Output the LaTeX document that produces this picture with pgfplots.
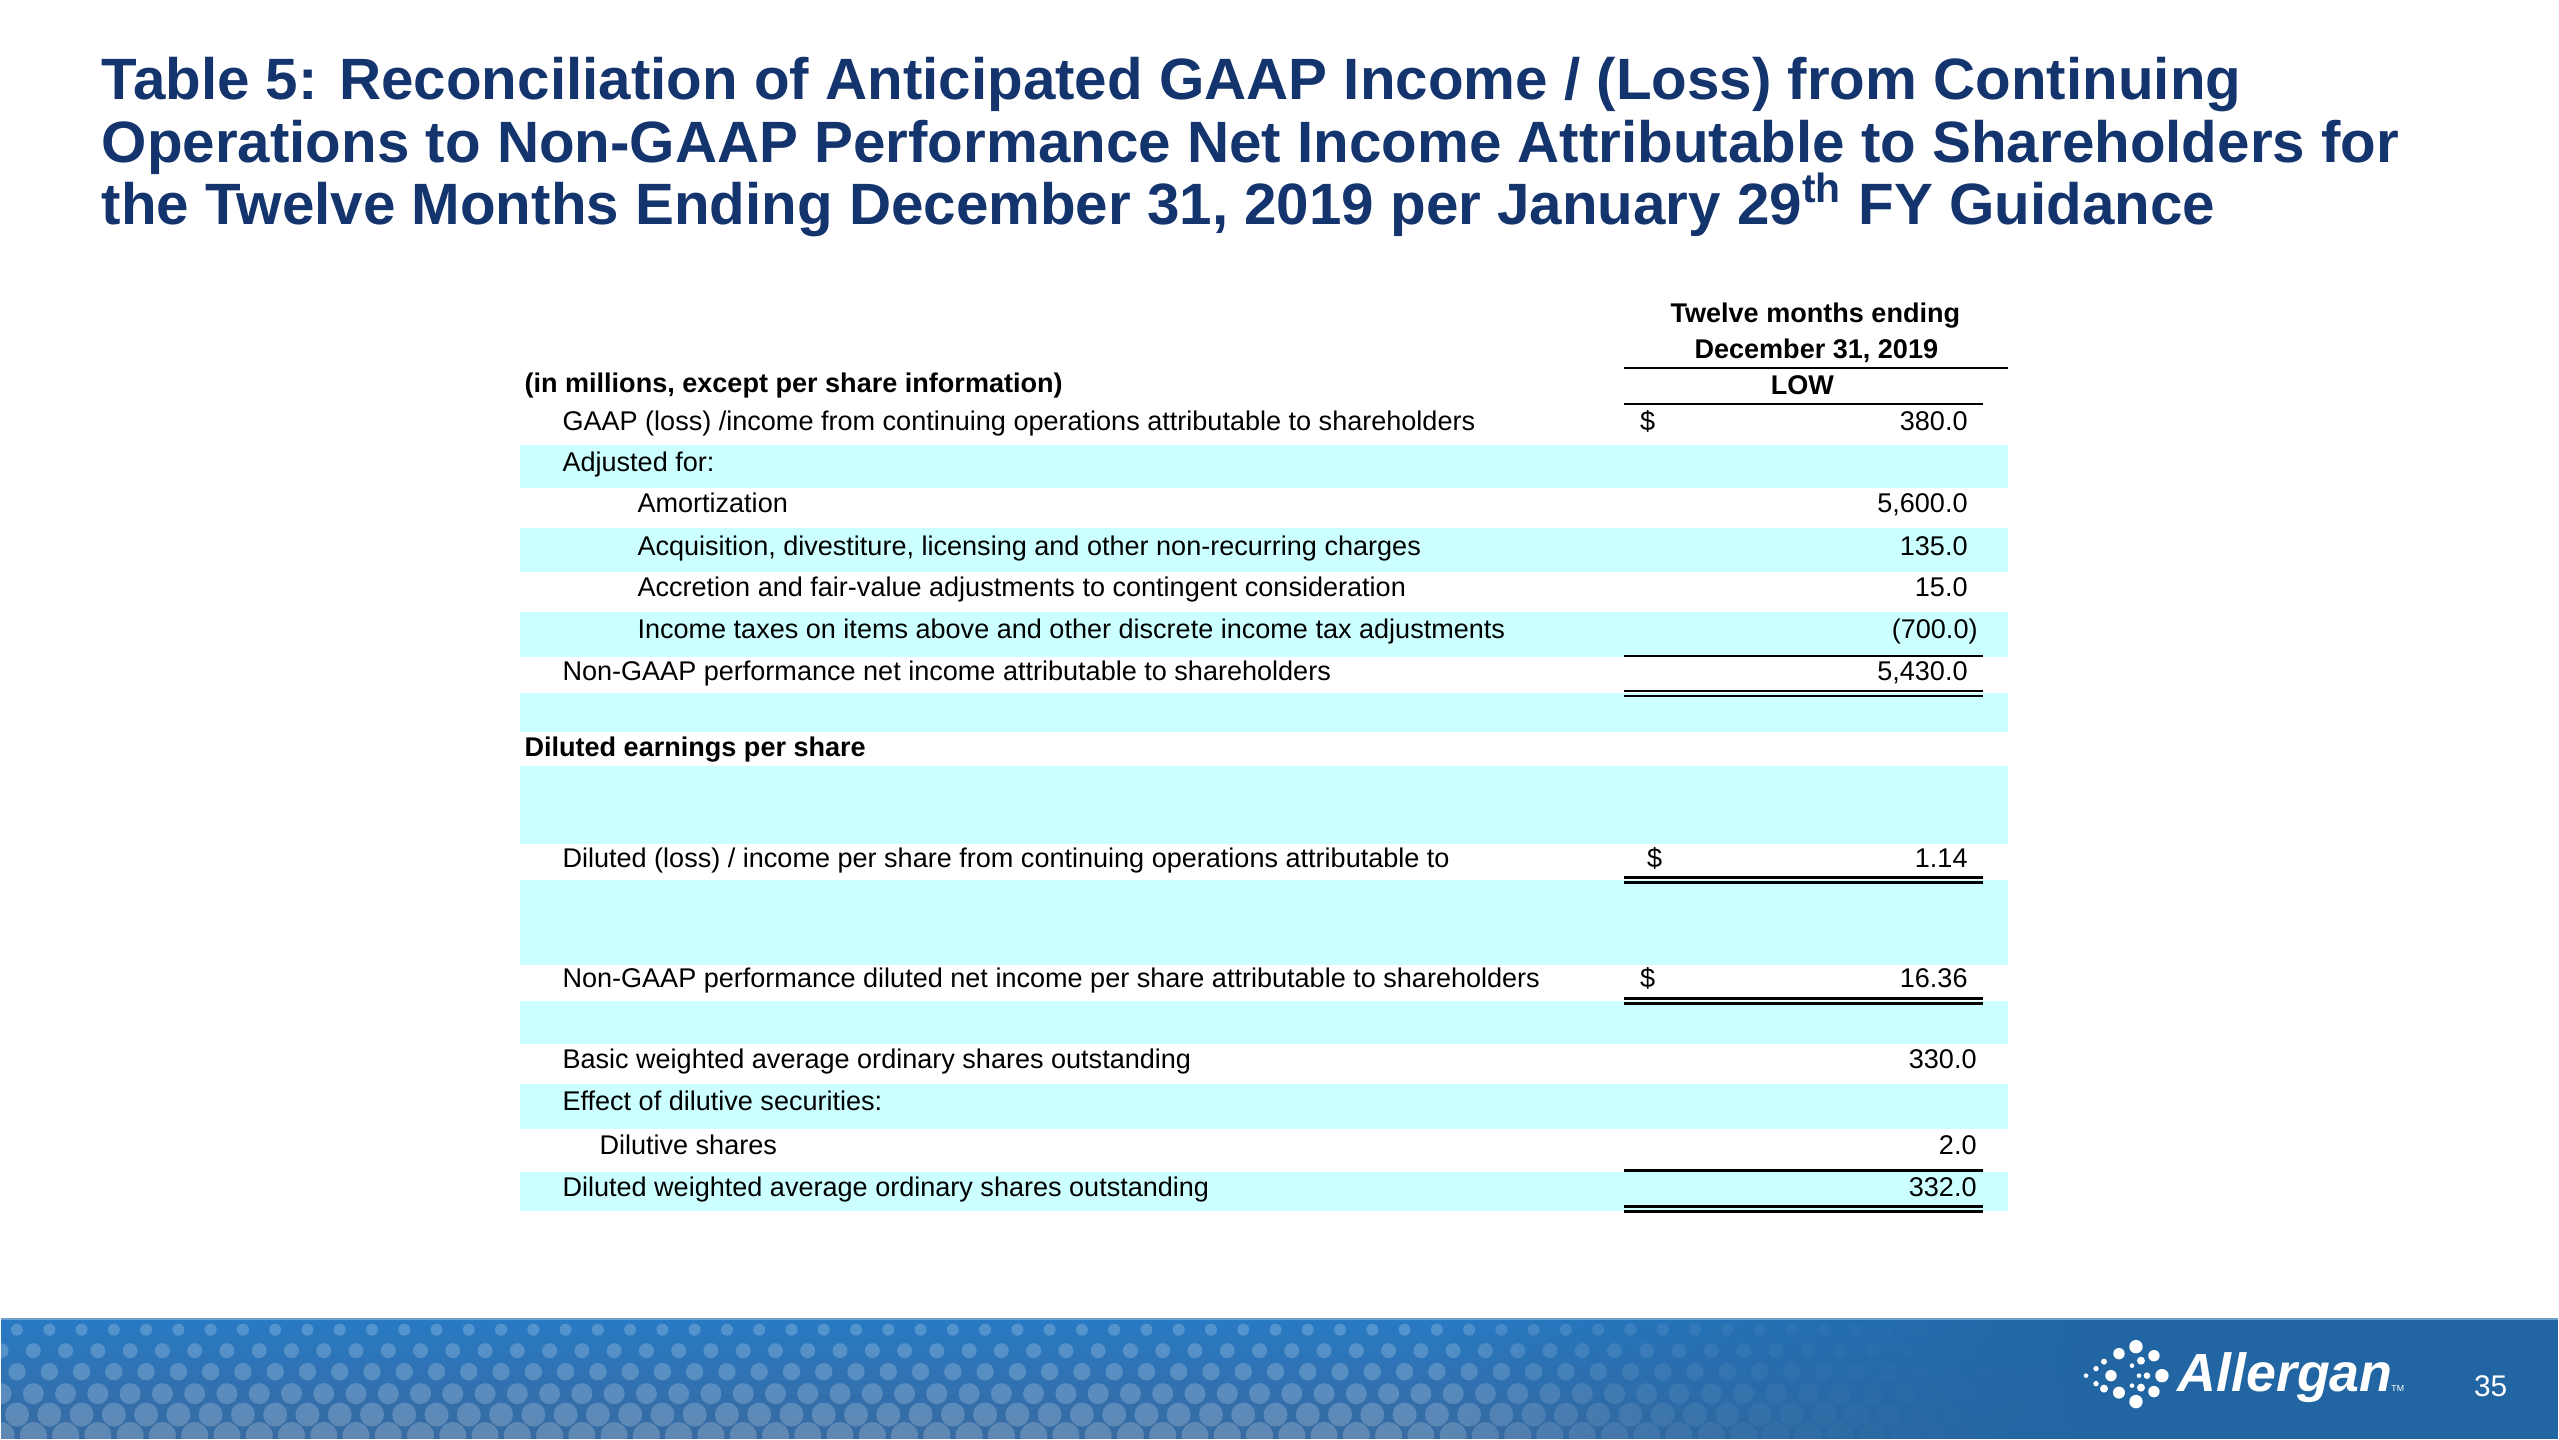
\documentclass[border=0pt]{standalone}
\usepackage{pgfplots}
\pgfplotsset{compat=1.18}
\usepackage{pgfplotstable}
\usepackage{fontspec}
\setmainfont{Liberation Sans}
\usetikzlibrary{fadings}
\tikzfading[name=fadeinright, left color=transparent!100, right color=transparent!0]

\definecolor{titleblue}{RGB}{20,52,110}
\definecolor{band}{RGB}{204,255,255}
\definecolor{foottop}{RGB}{40,122,196}
\definecolor{footbot}{RGB}{56,106,160}
\definecolor{footright}{RGB}{33,102,163}
\definecolor{footedge}{RGB}{110,160,205}

\newcommand\tabfont{\fontsize{7.7}{9}\selectfont}
\newcommand\titlefont{\fontsize{16.6}{18}\selectfont\bfseries}

% row labels (x, baseline y in pixels from the top)
\pgfplotstableread[col sep=semicolon]{
x;y;label
561;431;GAAP (loss) /income from continuing operations attributable to shareholders
561;472;Adjusted for:
636;513;Amortization
636;556;Acquisition, divestiture, licensing and other non-recurring charges
636;597;Accretion and fair-value adjustments to contingent consideration
636;639;Income taxes on items above and other discrete income tax adjustments
561;681;Non-GAAP performance net income attributable to shareholders
561;868;Diluted (loss) / income per share from continuing operations attributable to
561;988;Non-GAAP performance diluted net income per share attributable to shareholders
561;1069;Basic weighted average ordinary shares outstanding
561;1111;Effect of dilutive securities:
598;1155;Dilutive shares
561;1197;Diluted weighted average ordinary shares outstanding
}\rowlabels

\pgfplotstableread[col sep=semicolon]{
x;y;label
523;393;(in millions, except per share information)
523;757;Diluted earnings per share
}\boldlabels

% values, LOW column (right edge x, baseline y)
\pgfplotstableread[col sep=semicolon]{
x;y;label
1968;431;380.0
1968;513;5,600.0
1968;556;135.0
1968;597;15.0
1978;639;(700.0)
1968;681;5,430.0
1968;868;1.14
1968;988;16.36
1977;1069;330.0
1977;1155;2.0
1977;1197;332.0
}\lowvalues

\begin{document}
\begin{tikzpicture}
\begin{axis}[
  width=25.59cm, height=14.4cm, scale only axis,
  xmin=0, xmax=2559, ymin=0, ymax=1440, y dir=reverse,
  hide axis, clip=false]
\fill[white] (0,0) rectangle (2559,1440);
% shaded bands
\fill[band] (519,445) rectangle (2008,488);
\fill[band] (519,528) rectangle (2008,572);
\fill[band] (519,612) rectangle (2008,657);
\fill[band] (519,693) rectangle (2008,732);
\fill[band] (519,766) rectangle (2008,844);
\fill[band] (519,880) rectangle (2008,965);
\fill[band] (519,1001) rectangle (2008,1044);
\fill[band] (519,1084) rectangle (2008,1129);
\fill[band] (519,1172) rectangle (2008,1211);
% rules
\draw[line width=0.7pt] (1624,368) -- (2008,368);
\draw[line width=0.7pt] (1624,404) -- (1983,404);
\draw[line width=0.7pt] (1624,656) -- (1983,656);
\draw[line width=0.7pt] (1624,691) -- (1983,691);
\draw[line width=0.7pt] (1624,696) -- (1983,696);
\draw[line width=0.7pt] (1624,878) -- (1983,878);
\draw[line width=0.7pt] (1624,883) -- (1983,883);
\draw[line width=0.7pt] (1624,999) -- (1983,999);
\draw[line width=0.7pt] (1624,1004) -- (1983,1004);
\draw[line width=0.7pt] (1624,1171) -- (1983,1171);
\draw[line width=0.7pt] (1624,1207) -- (1983,1207);
\draw[line width=0.7pt] (1624,1212) -- (1983,1212);
% title
\node[anchor=base west, inner sep=0pt, text=titleblue, font=\titlefont] at (100,100) {Table 5: Reconciliation of Anticipated GAAP Income / (Loss) from Continuing};
\node[anchor=base west, inner sep=0pt, text=titleblue, font=\titlefont] at (100,163) {Operations to Non-GAAP Performance Net Income Attributable to Shareholders for};
\node[anchor=base west, inner sep=0pt, text=titleblue, font=\titlefont] at (100,225) {the Twelve Months Ending December 31, 2019 per January 29\textsuperscript{th} FY Guidance};
% column header
\node[anchor=base, inner sep=0pt, font=\tabfont\bfseries] at (1815,323) {Twelve months ending};
\node[anchor=base, inner sep=0pt, font=\tabfont\bfseries] at (1816,359) {December 31, 2019};
\node[anchor=base, inner sep=0pt, font=\tabfont\bfseries] at (1802,395) {LOW};
% labels
\addplot[draw=none, mark=none, nodes near coords, point meta=explicit symbolic,
  every node near coord/.append style={anchor=base west, inner sep=0pt, font=\tabfont}]
  table[x=x, y=y, meta=label] {\rowlabels};
\addplot[draw=none, mark=none, nodes near coords, point meta=explicit symbolic,
  every node near coord/.append style={anchor=base west, inner sep=0pt, font=\tabfont\bfseries}]
  table[x=x, y=y, meta=label] {\boldlabels};
% values
\addplot[draw=none, mark=none, nodes near coords, point meta=explicit symbolic,
  every node near coord/.append style={anchor=base east, inner sep=0pt, font=\tabfont}]
  table[x=x, y=y, meta=label] {\lowvalues};
\addplot[draw=none, mark=none, nodes near coords, point meta=explicit symbolic,
  every node near coord/.append style={anchor=base west, inner sep=0pt, font=\tabfont}]
  coordinates {(1639,431) [\$] (1646,868) [\$] (1639,988) [\$]};
\end{axis}
% footer band (decoration)
\begin{scope}[x=0.01cm, y=-0.01cm, yshift=14.4cm]
  \shade[top color=foottop, bottom color=footbot] (0,1320) rectangle (2559,1440);
  \begin{scope}
    \clip (0,1321) rectangle (2559,1440);
    \foreach \yy/\rad/\off in {1331/0.060/16, 1352/0.075/0, 1373/0.087/16, 1395/0.105/0, 1416/0.120/16, 1437/0.135/0} {
      \foreach \k in {0,...,64} {
        \pgfmathsetmacro\xx{\off+32.3*\k}
        \pgfmathsetmacro\op{(\xx<1400)*0.2 + (\xx>=1400)*max(0,0.2*(2050-\xx)/650)}
        \fill[white, opacity=\op] (\xx,\yy) circle[radius=\rad cm];
      }
    }
  \end{scope}
  \fill[footright, path fading=fadeinright] (1450,1320) rectangle (2100,1440);
  \fill[footright] (2099,1320) rectangle (2559,1440);
  \draw[footedge, line width=0.6pt] (0,1320) -- (2559,1320);
  % logo mark
  \foreach \px/\py/\pr in {2137/1348/0.067, 2120/1355/0.057, 2155/1357/0.057, 2105/1363/0.03,
     2142/1362/0.04, 2133/1367/0.023, 2097/1370/0.027, 2112/1377/0.057, 2163/1377/0.067,
     2087/1377/0.023, 2148/1377/0.033, 2140/1377/0.023, 2097/1385/0.027, 2105/1390/0.04,
     2133/1387/0.023, 2142/1389/0.04, 2120/1394/0.06, 2155/1393/0.057, 2137/1403/0.067} {
    \fill[white] (\px,\py) circle[radius=\pr cm];
  }
  \node[anchor=base west, inner sep=0pt, text=white, font=\fontsize{15.3}{17}\selectfont\bfseries\itshape] at (2178,1393) {Allergan};
  \node[anchor=base west, inner sep=0pt, text=white, font=\fontsize{2.5}{3}\selectfont] at (2392,1393) {TM};
  \node[anchor=base, inner sep=0pt, text=white, font=\fontsize{8.5}{9}\selectfont] at (2492,1398) {35};
\end{scope}
\end{tikzpicture}
\end{document}
